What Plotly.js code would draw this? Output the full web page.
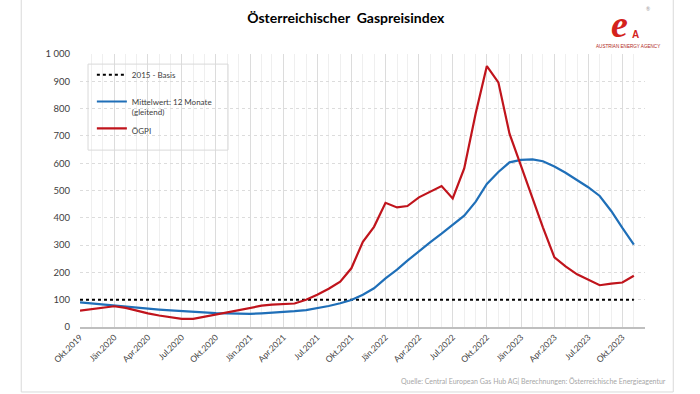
<!DOCTYPE html>
<html>
<head>
<meta charset="utf-8">
<script src="https://cdn.plot.ly/plotly-3.0.1.min.js"></script>
<style>html,body{margin:0;padding:0;background:#fff;}#chart{width:700px;height:394px;}</style>
</head>
<body>
<div id="chart"></div>
<script>
// Months Okt 2019 .. Nov 2023
const months = [
 '2019-10-01','2019-11-01','2019-12-01',
 '2020-01-01','2020-02-01','2020-03-01','2020-04-01','2020-05-01','2020-06-01','2020-07-01','2020-08-01','2020-09-01','2020-10-01','2020-11-01','2020-12-01',
 '2021-01-01','2021-02-01','2021-03-01','2021-04-01','2021-05-01','2021-06-01','2021-07-01','2021-08-01','2021-09-01','2021-10-01','2021-11-01','2021-12-01',
 '2022-01-01','2022-02-01','2022-03-01','2022-04-01','2022-05-01','2022-06-01','2022-07-01','2022-08-01','2022-09-01','2022-10-01','2022-11-01','2022-12-01',
 '2023-01-01','2023-02-01','2023-03-01','2023-04-01','2023-05-01','2023-06-01','2023-07-01','2023-08-01','2023-09-01','2023-10-01','2023-11-01'
];
// ÖGPI (red)
const oegpi = [
 60, 66, 72,
 76, 70, 60, 50, 42, 35, 30, 30, 38, 48, 56, 64,
 72, 78, 82, 84, 86, 100, 118, 140, 166, 215, 312, 367,
 455, 438, 443, 475, 496, 516, 471, 581, 783, 956, 896, 708,
 590, 470, 365, 255, 222, 193, 172, 153, 159, 163, 188
];
// 12-month moving average (blue)
const mittelwert = [
 90, 86, 81,
 77, 74, 71, 68, 64, 61, 58, 55, 53, 51, 50, 49,
 48, 50, 52, 54, 58, 62, 69, 77, 87, 99, 118, 142,
 178, 210, 243, 278, 310, 342, 374, 408, 459, 524, 568, 603,
 612, 614, 607, 588, 565, 537, 512, 480, 425, 363, 302
];
// 2015 basis
const basisX = ['2019-10-01', '2023-11-01'];
const basisY = [100, 100];
// Tick labels
const tickVals = ['2019-10-01','2020-01-01','2020-04-01','2020-07-01','2020-10-01','2021-01-01','2021-04-01','2021-07-01','2021-10-01','2022-01-01','2022-04-01','2022-07-01','2022-10-01','2023-01-01','2023-04-01','2023-07-01','2023-10-01'];
const tickText = ['Okt.2019','Jän.2020','Apr.2020','Jul.2020','Okt.2020','Jän.2021','Apr.2021','Jul.2021','Okt.2021','Jän.2022','Apr.2022','Jul.2022','Okt.2022','Jän.2023','Apr.2023','Jul.2023','Okt.2023'];

const F = 'Lato, "Open Sans", sans-serif';
const txt = '#404040';

const traces = [
 {x: basisX, y: basisY, type: 'scatter', mode: 'lines', name: '2015 - Basis<br>&nbsp;',
  line: {color: '#000000', width: 2, dash: 'dot'}, legendgroup: 'a'},
 {x: months, y: mittelwert, type: 'scatter', mode: 'lines', name: 'Mittelwert: 12 Monate<br>(gleitend)',
  line: {color: '#1f6fb8', width: 2.2}, legendgroup: 'b'},
 {x: months, y: oegpi, type: 'scatter', mode: 'lines', name: 'ÖGPI',
  line: {color: '#c0141c', width: 2.2}, legendgroup: 'c'}
];

const layout = {
 width: 700, height: 394,
 margin: {l: 80, r: 55, t: 54, b: 67},
 paper_bgcolor: '#ffffff', plot_bgcolor: '#ffffff',
 separators: ', ',
 font: {family: F, size: 9, color: txt},
 title: {text: '<b>Österreichischer  Gaspreisindex</b>', x: 0.494, xanchor: 'center', y: 0.955, yanchor: 'middle',
  font: {family: F, size: 14, color: '#000000'}},
 showlegend: true,
 legend: {x: 0.021, y: 0.967, xanchor: 'left', yanchor: 'top', bgcolor: 'rgba(0,0,0,0)', borderwidth: 0,
  font: {family: F, size: 8, color: txt}, tracegroupgap: 3, itemwidth: 30, valign: 'top', traceorder: 'grouped'},
 xaxis: {type: 'date', range: ['2019-10-01', '2023-12-01'], tickmode: 'array', tickvals: tickVals, ticktext: tickText,
  tickangle: -45, tickfont: {family: F, size: 8.5, color: txt}, showgrid: true, gridcolor: '#dcdcdc', gridwidth: 1,
  showline: true, linecolor: '#bfbfbf', linewidth: 2, ticks: '', zeroline: false,
  minor: {dtick: 'M1', tick0: '2019-10-01', showgrid: true, gridcolor: '#efefef', gridwidth: 1, ticks: ''}},
 yaxis: {range: [0, 1000], dtick: 100, tick0: 0, separatethousands: true, showgrid: true, gridcolor: '#dcdcdc',
  griddash: 'dot', gridwidth: 1, zeroline: false, showline: false, ticks: '', tickfont: {family: F, size: 9.5, color: txt},
  ticklabelstandoff: 9},
 shapes: [
  {type: 'rect', xref: 'paper', yref: 'paper', x0: 0.0142, x1: 0.262, y0: 0.648, y1: 0.963,
   line: {color: '#d9d9d9', width: 1}, fillcolor: 'rgba(0,0,0,0)', layer: 'above'},
  {type: 'rect', xref: 'paper', yref: 'paper', x0: -0.104, x1: 1.05, y0: -0.238, y1: 1.21,
   line: {color: '#d9d9d9', width: 1}, fillcolor: 'rgba(0,0,0,0)'}
 ],
 annotations: [
  {text: 'Quelle: Central European Gas Hub AG| Berechnungen: Österreichische Energieagentur', xref: 'paper', yref: 'paper',
   x: 1.04, y: -0.198, xanchor: 'right', yanchor: 'middle', showarrow: false, font: {family: F, size: 7, color: '#a6a6a6'}},
  {text: '<i><b>e</b></i>', xref: 'paper', yref: 'paper', x: 0.955, y: 1.11, xanchor: 'center', yanchor: 'middle', showarrow: false,
   font: {family: '"Liberation Serif", serif', size: 38, color: '#d4231c'}},
  {text: '<b>A</b>', xref: 'paper', yref: 'paper', x: 0.984, y: 1.07, xanchor: 'center', yanchor: 'middle', showarrow: false,
   font: {family: '"Liberation Sans", sans-serif', size: 10, color: '#d4231c'}},
  {text: '®', xref: 'paper', yref: 'paper', x: 1.005, y: 1.165, xanchor: 'center', yanchor: 'middle', showarrow: false,
   font: {family: F, size: 5, color: '#999999'}},
  {text: 'AUSTRIAN ENERGY AGENCY', xref: 'paper', yref: 'paper', x: 0.97, y: 1.027, xanchor: 'center', yanchor: 'middle', showarrow: false,
   font: {family: '"Liberation Sans Narrow", "Liberation Sans", sans-serif', size: 4.6, color: '#b01f1a'}}
 ]
};

Plotly.newPlot('chart', traces, layout, {displayModeBar: false, staticPlot: true});
</script>
</body>
</html>
